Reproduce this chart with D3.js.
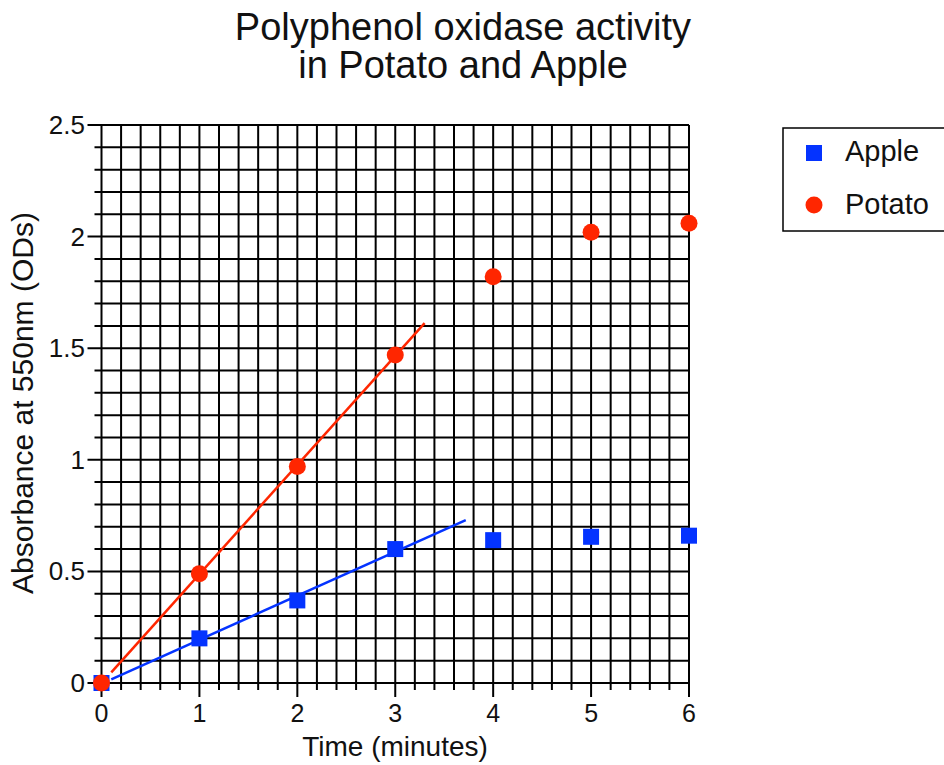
<!DOCTYPE html>
<html>
<head>
<meta charset="utf-8">
<script src="https://cdn.jsdelivr.net/npm/d3@7"></script>
<style>
  body { margin: 0; background: #fff; }
  text { font-family: "Liberation Sans", Arial, Helvetica, sans-serif; fill: #111; }
</style>
</head>
<body>
<script>
// data
var times = [0, 1, 2, 3, 4, 5, 6];
var apple = [0, 0.2, 0.37, 0.6, 0.64, 0.655, 0.66];
var potato = [0, 0.49, 0.97, 1.47, 1.82, 2.02, 2.06];
var xTicks = [0, 1, 2, 3, 4, 5, 6];
var yTicks = [0, 0.5, 1, 1.5, 2, 2.5];

var width = 944, height = 765;
var blue = "#0433ff", red = "#ff2600";

var svg = d3.select("body").append("svg")
    .attr("width", width)
    .attr("height", height);

var x = d3.scaleLinear().domain([0, 6]).range([101.5, 689]);
var y = d3.scaleLinear().domain([0, 2.5]).range([683, 125]);

// grid
var grid = svg.append("g").attr("stroke", "#000").attr("stroke-width", 2);

var vLines = d3.range(0, 31).map(function(i) { return i * 0.2; });
grid.selectAll(".vl").data(vLines).enter().append("line")
    .attr("x1", function(d) { return x(d); })
    .attr("x2", function(d) { return x(d); })
    .attr("y1", y(2.5))
    .attr("y2", function(d, i) { return i % 5 === 0 ? y(0) + 14 : y(0) + 7; });

var hLines = d3.range(0, 26).map(function(i) { return i * 0.1; });
grid.selectAll(".hl").data(hLines).enter().append("line")
    .attr("y1", function(d) { return y(d); })
    .attr("y2", function(d) { return y(d); })
    .attr("x1", function(d, i) { return i % 5 === 0 ? x(0) - 14 : x(0) - 7; })
    .attr("x2", x(6));

// tick labels
svg.selectAll(".xt").data(xTicks).enter().append("text")
    .attr("x", function(d) { return x(d); })
    .attr("y", 722)
    .attr("text-anchor", "middle")
    .attr("font-size", 25)
    .text(function(d) { return d; });

svg.selectAll(".yt").data(yTicks).enter().append("text")
    .attr("x", 85)
    .attr("y", function(d) { return y(d) + 9; })
    .attr("text-anchor", "end")
    .attr("font-size", 26)
    .text(function(d) { return d; });

// axis titles
svg.append("text")
    .attr("x", 395).attr("y", 756)
    .attr("text-anchor", "middle")
    .attr("font-size", 28)
    .text("Time (minutes)");

svg.append("text")
    .attr("transform", "translate(33,403) rotate(-90)")
    .attr("text-anchor", "middle")
    .attr("font-size", 30)
    .text("Absorbance at 550nm (ODs)");

// chart title
svg.append("text")
    .attr("x", 463).attr("y", 40)
    .attr("text-anchor", "middle")
    .attr("font-size", 38)
    .text("Polyphenol oxidase activity");
svg.append("text")
    .attr("x", 463).attr("y", 78)
    .attr("text-anchor", "middle")
    .attr("font-size", 38)
    .text("in Potato and Apple");

// least squares fit over the first four points
function fit(ys) {
    var xs = times.slice(0, 4), yy = ys.slice(0, 4);
    var mx = d3.mean(xs), my = d3.mean(yy);
    var num = 0, den = 0;
    for (var i = 0; i < xs.length; i++) {
        num += (xs[i] - mx) * (yy[i] - my);
        den += (xs[i] - mx) * (xs[i] - mx);
    }
    var b = num / den;
    return { slope: b, icpt: my - b * mx };
}

function drawFit(ys, x0, x1, col) {
    var f = fit(ys);
    svg.append("line")
        .attr("x1", x(x0)).attr("y1", y(f.icpt + f.slope * x0))
        .attr("x2", x(x1)).attr("y2", y(f.icpt + f.slope * x1))
        .attr("stroke", col)
        .attr("stroke-width", 2.5);
}

drawFit(potato, 0.1, 3.3, red);
drawFit(apple, 0.1, 3.72, blue);

// markers
svg.selectAll(".apple").data(times).enter().append("rect")
    .attr("x", function(d) { return x(d) - 8; })
    .attr("y", function(d, i) { return y(apple[i]) - 8; })
    .attr("width", 16).attr("height", 16)
    .attr("fill", blue);

svg.selectAll(".potato").data(times).enter().append("circle")
    .attr("cx", function(d) { return x(d); })
    .attr("cy", function(d, i) { return y(potato[i]); })
    .attr("r", 8.5)
    .attr("fill", red);

// legend
var legend = svg.append("g");
legend.append("rect")
    .attr("x", 783).attr("y", 128)
    .attr("width", 170).attr("height", 103)
    .attr("fill", "#fff")
    .attr("stroke", "#000")
    .attr("stroke-width", 1.5);
legend.append("rect")
    .attr("x", 806).attr("y", 145)
    .attr("width", 16).attr("height", 16)
    .attr("fill", blue);
legend.append("circle")
    .attr("cx", 814).attr("cy", 205)
    .attr("r", 8.5)
    .attr("fill", red);
legend.append("text")
    .attr("x", 845).attr("y", 161)
    .attr("font-size", 29)
    .text("Apple");
legend.append("text")
    .attr("x", 845).attr("y", 214)
    .attr("font-size", 29)
    .text("Potato");
</script>
</body>
</html>
